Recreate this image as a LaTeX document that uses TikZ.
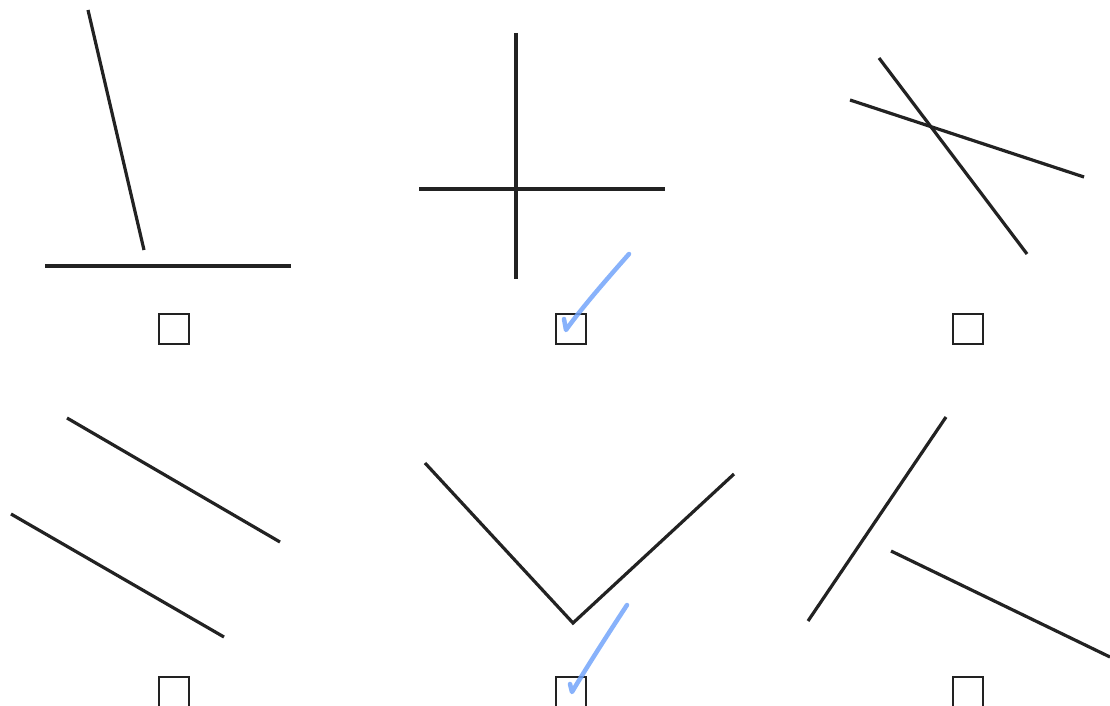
\documentclass[tikz,border=0pt]{standalone}
\definecolor{inkgray}{RGB}{34,34,34}
\definecolor{tickblue}{RGB}{115,165,250}
\begin{document}
\begin{tikzpicture}[
  x=1pt, y=-1pt,
  seg/.style={line width=3.2pt, draw=inkgray},
  tickbox/.style={draw=inkgray, line width=2pt, minimum size=30pt, inner sep=0pt, anchor=north},
  tickmark/.style={line width=4.5pt, draw=tickblue, opacity=0.85, line cap=round, line join=round}
]
\useasboundingbox (0,0) rectangle (1110,706);

% === Panel 1: foot of a slanted segment ===
\coordinate (p1a) at (88,10);
\coordinate (p1b) at (144,250);
\coordinate (p1c) at (45,266);
\coordinate (p1d) at (291,266);
\draw[seg] (p1a) -- (p1b);
\draw[seg] (p1c) -- (p1d);

% === Panel 2: perpendicular cross ===
\coordinate (p2a) at (516,33);
\coordinate (p2b) at (516,279);
\coordinate (p2c) at (419,189);
\coordinate (p2d) at (665,189);
\draw[seg] (p2a) -- (p2b);
\draw[seg] (p2c) -- (p2d);

% === Panel 3: oblique crossing ===
\coordinate (p3a) at (879,58);
\coordinate (p3b) at (1027,254);
\coordinate (p3c) at (850,100);
\coordinate (p3d) at (1084,177);
\draw[seg] (p3a) -- (p3b);
\draw[seg] (p3c) -- (p3d);

% === Panel 4: parallel segments ===
\coordinate (p4a) at (67,418);
\coordinate (p4b) at (280,542);
\coordinate (p4c) at (11,514);
\coordinate (p4d) at (224,637);
\draw[seg] (p4a) -- (p4b);
\draw[seg] (p4c) -- (p4d);

% === Panel 5: right angle (V) ===
\coordinate (p5a) at (425,463);
\coordinate (p5v) at (573,623);
\coordinate (p5b) at (734,474);
\draw[seg, line join=miter] (p5a) -- (p5v) -- (p5b);

% === Panel 6: non-meeting segments ===
\coordinate (p6a) at (946,417);
\coordinate (p6b) at (808,621);
\coordinate (p6c) at (891,551);
\coordinate (p6d) at (1110,657);
\draw[seg] (p6a) -- (p6b);
\draw[seg] (p6c) -- (p6d);

% === Check boxes ===
\node[tickbox] (box1) at (174,313) {};
\node[tickbox] (box2) at (571,313) {};
\node[tickbox] (box3) at (968,313) {};
\node[tickbox] (box4) at (174,676) {};
\node[tickbox] (box5) at (571,676) {};
\node[tickbox] (box6) at (968,676) {};

% === Ticks (hand-drawn) ===
\draw[tickmark] (564,319) -- (566,330) .. controls (580,310) and (606,280) .. (629,254);
\draw[tickmark] (570,684) -- (572,692) .. controls (588,665) and (608,634) .. (627,605);

\end{tikzpicture}
\end{document}
